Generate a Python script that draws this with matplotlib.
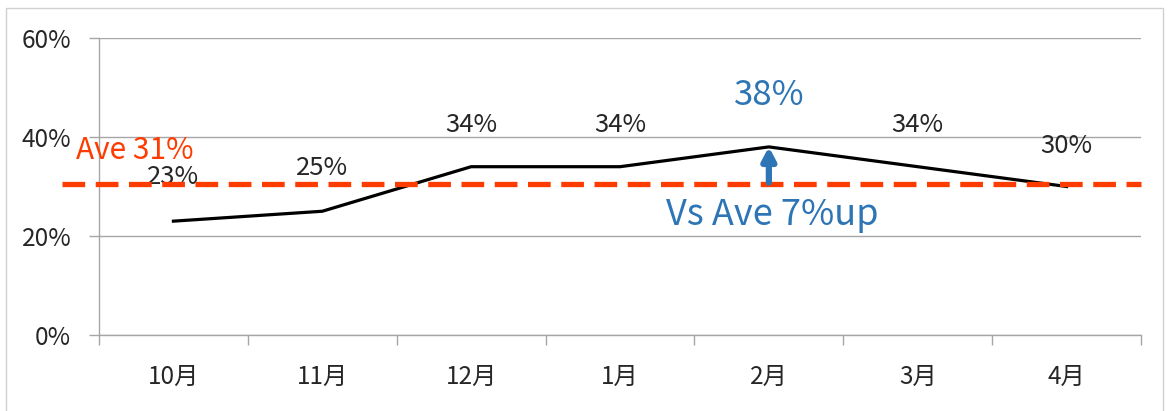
import matplotlib
matplotlib.use("Agg")
import matplotlib.pyplot as plt
from matplotlib.patches import Rectangle

plt.rcParams['font.family'] = ['Noto Sans CJK JP', 'DejaVu Sans']

months = ['10月', '11月', '12月', '1月', '2月', '3月', '4月']
rates = [23, 25, 34, 34, 38, 34, 30]
label_x = [0, 1, 2, 3, 5, 6]
label_vals = [23, 25, 34, 34, 34, 30]
label_y = [32.0, 33.7, 42.4, 42.4, 42.4, 38.2]
peak_idx = 4
avg_value = 30.5
avg_text = 'Ave 31%'
diff_text = 'Vs Ave 7%up'
yticks = [0, 20, 40, 60]

RED = '#FF3C00'
BLUE = '#2E75B6'
GRID = '#A6A6A6'
TXT = '#262626'

fig = plt.figure(figsize=(11.68, 4.11), dpi=100)
ax = fig.add_axes([99/1168, 1-335/411, (1141-99)/1168, (335-38)/411])

x = list(range(len(months)))
ax.plot(x, rates, color='black', lw=2.3, solid_joinstyle='round', zorder=3)

ax.set_xlim(-0.5, len(months)-0.5)
ax.set_ylim(0, 60)
ax.set_yticks(yticks)
ax.set_yticklabels([f'{v}%' for v in yticks], fontsize=17.5, color=TXT)
ax.set_xticks(x)
ax.set_xticklabels(months, fontsize=17.5, color=TXT)
ax.set_xticks([i - 0.5 for i in range(len(months)+1)], minor=True)
ax.tick_params(axis='x', which='major', length=0, pad=21)
ax.tick_params(axis='x', which='minor', length=7, color=GRID, width=1)
ax.tick_params(axis='y', length=7, color=GRID, width=1, pad=13)
ax.yaxis.grid(True, color=GRID, lw=1)
ax.set_axisbelow(True)
for s in ['top', 'right']:
    ax.spines[s].set_visible(False)
for s in ['left', 'bottom']:
    ax.spines[s].set_color(GRID)
    ax.spines[s].set_linewidth(1)

# average line extending left of axes
ln, = ax.plot([-0.75, len(months)-0.5], [avg_value, avg_value], color=RED, lw=3.8,
              clip_on=False, zorder=4)
ln.set_dashes((4.3, 2.0))

# data labels (drawn beneath the average line, as in the reference)
for xi, v, yl in zip(label_x, label_vals, label_y):
    ax.text(xi, yl, f'{v}%', ha='center', va='center', fontsize=18.5, color=TXT, zorder=3.5)

ax.text(peak_idx, 48.4, f'{rates[peak_idx]}%', ha='center', va='center', fontsize=25, color=BLUE)
ax.text(-0.655, 37.3, avg_text, ha='left', va='center', fontsize=21.5, color=RED, clip_on=False)
ax.text(peak_idx + 0.02, 24.2, diff_text, ha='center', va='center', fontsize=26, color=BLUE)

ax.annotate('', xy=(peak_idx, rates[peak_idx]), xytext=(peak_idx, avg_value + 0.3),
            arrowprops=dict(arrowstyle='-|>,head_width=0.4,head_length=0.75',
                            color=BLUE, lw=4.5, shrinkA=0, shrinkB=0), zorder=6)

fig.patches.append(Rectangle((6/1168, -0.1), (1163-6)/1168, 1.1 - 8/411,
                             transform=fig.transFigure, fill=False,
                             edgecolor='#D0D0D0', lw=1))

fig.savefig('out.png', dpi=100)
